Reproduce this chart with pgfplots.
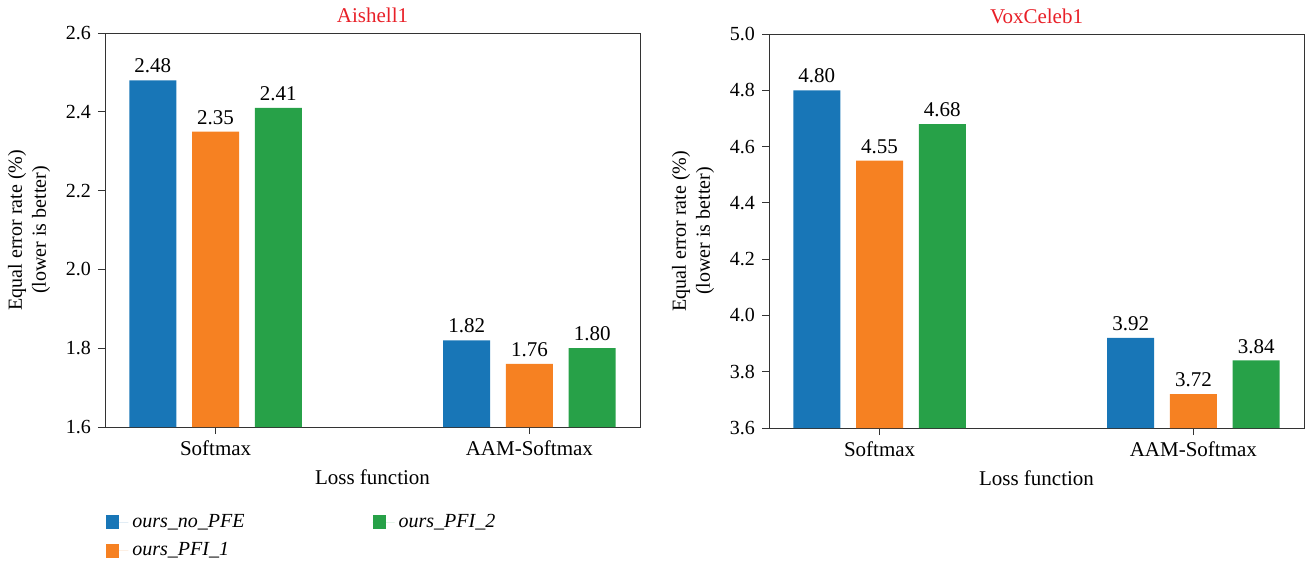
\documentclass[border=0pt]{standalone}
\usepackage{fontspec}
\setmainfont{Liberation Serif}
\usepackage{pgfplots}
\pgfplotsset{compat=1.18}
\definecolor{cblue}{RGB}{24,118,183}
\definecolor{corange}{RGB}{246,129,34}
\definecolor{cgreen}{RGB}{39,161,72}
\definecolor{tred}{RGB}{232,32,40}
\pgfplotsset{
  /pgf/number format/assume math mode=true,
  myax/.style={
    scale only axis, width=267.5pt, height=197pt, anchor=north west,
    xmin=-0.3525, xmax=1.3525,
    xtick={0,1}, xticklabels={Softmax,AAM-Softmax},
    tick pos=left, tick align=outside, major tick length=3.5pt,
    axis line style={black!80}, every tick/.style={black!80},
    xlabel={Loss function},
    ylabel={Equal error rate (\%)\\(lower is better)},
    ylabel style={align=center, at={(axis description cs:-0.142,0.5)}, anchor=center},
    xlabel style={font=\fontsize{10.5}{12}\selectfont},
    xticklabel style={font=\fontsize{10.5}{12}\selectfont},
    yticklabel style={/pgf/number format/fixed, /pgf/number format/fixed zerofill, /pgf/number format/precision=1},
    title style={text=tred, yshift=-4.5pt, font=\fontsize{10.5}{12}\selectfont},
    nodes near coords,
    every node near coord/.append style={text=black, font=\fontsize{10.5}{12}\selectfont, /pgf/number format/fixed, /pgf/number format/fixed zerofill, /pgf/number format/precision=2},
    every axis plot/.append style={ybar, bar width=0.15, bar shift=0pt, draw=none},
    clip=false,
  }
}
\begin{document}
\begin{tikzpicture}
\path[use as bounding box] (0,0) rectangle (653pt,-281pt);
\begin{axis}[myax, at={(52.5pt,-16.5pt)},
  title={Aishell1},
  ymin=1.6, ymax=2.6, ytick={1.6,1.8,2.0,2.2,2.4,2.6},
  legend columns=2, legend cell align=left,
  legend style={at={(axis description cs:0,-0.2)}, xshift=-2.5pt, anchor=north west, draw=none, font=\itshape,
    /tikz/every even column/.append style={column sep=62pt}, row sep=2pt},
  legend image code/.code={\fill[#1] (0pt,-3.5pt) rectangle (6.5pt,3.5pt); \path (0pt,0pt) -- (11pt,0pt);},
]
\addlegendimage{fill=cblue, draw=none}
\addlegendimage{fill=cgreen, draw=none}
\addlegendimage{fill=corange, draw=none}
\addplot[fill=cblue] coordinates {(-0.2,2.48) (0.8,1.82)};
\addplot[fill=corange] coordinates {(0,2.35) (1,1.76)};
\addplot[fill=cgreen] coordinates {(0.2,2.41) (1.2,1.80)};
\legend{ours\_no\_PFE, ours\_PFI\_2, ours\_PFI\_1}
\end{axis}
\begin{axis}[myax, at={(384.5pt,-17pt)},
  title={VoxCeleb1},
  ymin=3.6, ymax=5.0, ytick={3.6,3.8,4.0,4.2,4.4,4.6,4.8,5.0},
]
\addplot[fill=cblue] coordinates {(-0.2,4.80) (0.8,3.92)};
\addplot[fill=corange] coordinates {(0,4.55) (1,3.72)};
\addplot[fill=cgreen] coordinates {(0.2,4.68) (1.2,3.84)};
\end{axis}
\end{tikzpicture}
\end{document}
